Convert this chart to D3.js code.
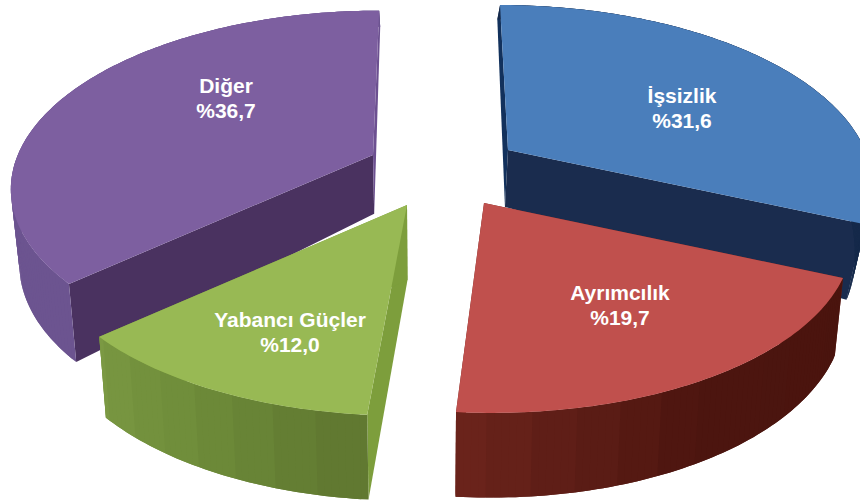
<!DOCTYPE html>
<html><head><meta charset="utf-8">
<script src="https://cdnjs.cloudflare.com/ajax/libs/d3/7.8.5/d3.min.js"></script>
<style>html,body{margin:0;padding:0;background:#fff}svg{display:block}</style>
</head><body><div id="c"></div>
<script>
const categories = ["İşsizlik","Ayrımcılık","Yabancı Güçler","Diğer"];
const values = [31.6,19.7,12.0,36.7];
const valueLabels = ["%31,6","%19,7","%12,0","%36,7"];
const topColors = ["#4a7ebb","#c0504d","#98b954","#7d5fa0"];
const radialColors = [["#12315c","#1a2c4e"],["#6e231c","#6e231c"],["#7d9e3c","#7d9e3c"],["#4a3260","#6c5090"]];
const wallStops = [["#15294a","#15294a","#15294a"],["#4a140e","#4c150f","#6c241c"],["#5f7630","#6c8a38","#7a9842"],["#6c5490","#6c5490","#6c5490"]];

const W=860,H=500,cx=432,persp=0.176,sx=357,sy=170.5,skew=0.7;
const apex=[[508,150],[484,203],[407,205],[373,155]];
const radiusScale=[1,1.012,1.015,0.995];
const shrink=[0.04,0.02,0.02,0.02];
const labelPos=[[682,95],[620,292],[290,319],[226,85]];
const depth=d3.scaleLinear().domain([0,150,205,280,420]).range([13,57,75,78,85]);

const svg=d3.select("#c").append("svg").attr("width",W).attr("height",H).attr("viewBox",[0,0,W,H]);
const pie=d3.pie().sort(null).value(d=>d).startAngle(0).endAngle(2*Math.PI);
const arcs=pie(values);
const line=d3.line();

function project(i,theta,r){
  const rr=r*radiusScale[i];
  const u=rr*Math.sin(theta),v=-rr*Math.cos(theta),k=1-persp*v;
  const [ax,ay]=apex[i];
  return [ax+(ax-cx)*skew*(1/k-1)+sx*u/k, ay+sy*v/k];
}
const lower=(i,p)=>[p[0]+(cx-p[0])*shrink[i], p[1]+depth(p[1])];
const rim=(i,a0,a1,step)=>{
  const n=Math.max(1,Math.ceil((a1-a0)/step));
  return d3.range(n+1).map(j=>({t:a0+(a1-a0)*j/n,p:project(i,a0+(a1-a0)*j/n,1)}));
};

[0,3,2,1].forEach(i=>{
  const a=arcs[i],g=svg.append("g");
  const p0=project(i,a.startAngle,0);
  [a.startAngle,a.endAngle].forEach((t,k)=>{
    const q=project(i,t,1);
    g.append("path").attr("d",line([p0,q,lower(i,q),lower(i,p0)])+"Z")
      .attr("fill",radialColors[i][k]);
  });
  const pts=rim(i,a.startAngle,a.endAngle,Math.PI/180);
  const tone=d3.scaleLinear().domain([a.startAngle,(a.startAngle+a.endAngle)/2,a.endAngle]).range(wallStops[i]);
  const band=6*Math.PI/180;
  d3.range(pts.length-1).forEach(j=>{
    const m=pts[j],n=pts[Math.min(j+2,pts.length-1)];
    const c=tone(a.startAngle+Math.floor((m.t-a.startAngle)/band)*band+band/2);
    g.append("path").attr("d",line([m.p,pts[j+1].p,n.p,lower(i,n.p),lower(i,pts[j+1].p),lower(i,m.p)])+"Z").attr("fill",c);
  });
  g.append("path").attr("d",line([p0,...pts.map(d=>d.p)])+"Z").attr("fill",topColors[i]);
});

const txt=svg.append("g").attr("text-anchor","middle").attr("fill","#fff")
  .style("font-family","'Liberation Sans',Arial,sans-serif").style("font-weight","bold").style("font-size","21px");
categories.forEach((c,i)=>{
  const [x,y]=labelPos[i];
  txt.append("text").attr("x",x).attr("y",y+8).text(c);
  txt.append("text").attr("x",x).attr("y",y+33).text(valueLabels[i]);
});
</script></body></html>
